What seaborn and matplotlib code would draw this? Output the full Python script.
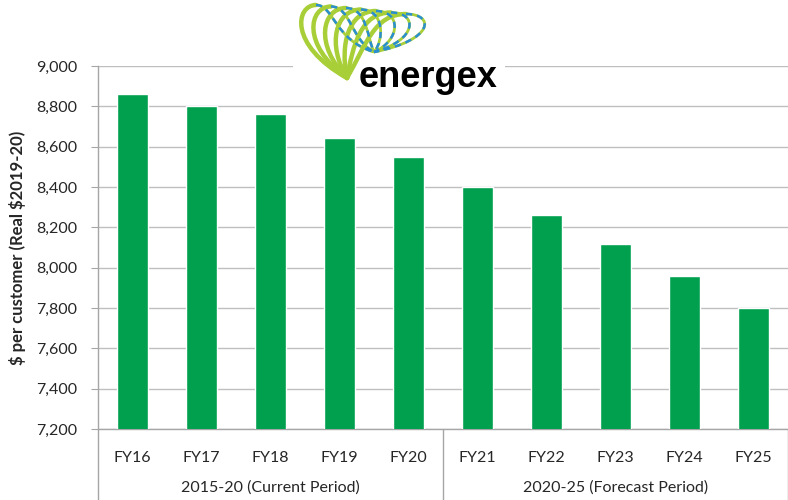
import numpy as np
import pandas as pd
import matplotlib
matplotlib.use("Agg")
import matplotlib.pyplot as plt
from matplotlib.path import Path
from matplotlib.patches import PathPatch
import seaborn as sns

# Data
years = ['FY16', 'FY17', 'FY18', 'FY19', 'FY20', 'FY21', 'FY22', 'FY23', 'FY24', 'FY25']
cost_per_customer = [8860, 8800, 8760, 8645, 8550, 8400, 8260, 8115, 7960, 7800]
periods = ['2015-20 (Current Period)', '2020-25 (Forecast Period)']
yticks = list(range(7200, 9001, 200))

df = pd.DataFrame({'year': years, 'cost': cost_per_customer})

sns.set_style('white')
plt.rcParams['font.family'] = ['Lato', 'DejaVu Sans']

W, H = 788, 500
fig = plt.figure(figsize=(W / 100, H / 100), dpi=100)
ax = fig.add_axes([98 / W, (H - 429) / H, 690 / W, 363 / H])

sns.barplot(data=df, x='year', y='cost', color='#00A04F', width=0.44,
            saturation=1, ax=ax, zorder=3)

ax.set_ylim(7200, 9000)
ax.set_xlim(-0.5, 9.5)
ax.set_yticks(yticks)
ax.set_yticklabels([f'{v:,}' for v in yticks], fontsize=11.5, color='#262626')
ax.yaxis.grid(True, color='#BFBFBF', linewidth=1, zorder=0)
ax.set_axisbelow(True)

for s in ['top', 'right']:
    ax.spines[s].set_visible(False)
for s in ['left', 'bottom']:
    ax.spines[s].set_color('#A6A6A6')
    ax.spines[s].set_linewidth(1)

ax.tick_params(axis='y', left=True, length=5, color='#A6A6A6', pad=10)
ax.tick_params(axis='x', bottom=False, pad=12, labelsize=11.5, labelcolor='#262626')
ax.set_xlabel('')
ax.set_ylabel('\\$ per customer (Real \\$2019-20)', fontsize=12, fontweight='bold',
              color='#262626')
ax.yaxis.set_label_coords(-0.104, 0.5)

# multi-level category axis: separators and period labels
for xpos in [-0.5, 4.5, 9.5]:
    ax.plot([xpos, xpos], [0, -0.2], transform=ax.get_xaxis_transform(),
            color='#A6A6A6', linewidth=1, clip_on=False)
for i, label in enumerate(periods):
    ax.text(2 + 5 * i, -0.162, label, transform=ax.get_xaxis_transform(),
            ha='center', va='center', fontsize=11.5, color='#262626')

# logo (rough drawing of the energex mark)
lax = fig.add_axes([293 / W, (H - 95) / H, 212 / W, 95 / H], zorder=5)
lax.set_xlim(293, 505)
lax.set_ylim(95, 0)
lax.axis('off')
lax.add_patch(plt.Rectangle((293, 0), 212, 95, color='white', zorder=0))

base = (347, 78)
end = (374, 52)
for k in range(7):
    tx = 316 + 15 * k
    ty = 5 + 1.5 * k
    spread = 20 + 2 * k
    left_leg = Path([base, (tx - spread - 8, 45), (tx - spread, ty), (tx, ty)],
                    [Path.MOVETO, Path.CURVE4, Path.CURVE4, Path.CURVE4])
    right_leg = Path([(tx, ty), (tx + 0.9 * spread, ty), (tx + 0.9 * spread, 40), end],
                     [Path.MOVETO, Path.CURVE4, Path.CURVE4, Path.CURVE4])
    lax.add_patch(PathPatch(left_leg, fill=False, edgecolor='#A8CF38', lw=3.2,
                            capstyle='round', zorder=2))
    lax.add_patch(PathPatch(right_leg, fill=False, edgecolor='#A8CF38', lw=2.0,
                            zorder=2))
    lax.add_patch(PathPatch(right_leg, fill=False, edgecolor='#2A8FD0', lw=1.8,
                            linestyle=(0, (2.5, 2)), zorder=3))

lax.text(359, 87, 'energex', fontsize=26, fontweight='bold', color='black',
         family=['Liberation Sans', 'DejaVu Sans'], ha='left', va='baseline', zorder=4)

fig.savefig('out.png', dpi=100)
